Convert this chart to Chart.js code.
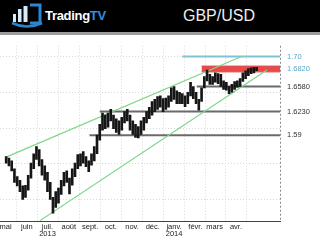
<!DOCTYPE html>
<html>
<head>
<meta charset="UTF-8">
<title>GBP/USD</title>
<script src="https://cdn.jsdelivr.net/npm/chart.js@4"></script>
<style>
    body {
        margin: 0;
        width: 320px;
        height: 240px;
        overflow: hidden;
        position: relative;
        background: #fff;
        font-family: "Liberation Sans", Arial, sans-serif;
    }
    .header {
        position: absolute;
        left: 0; top: 0;
        width: 320px; height: 32px;
        background: #000;
        border-bottom: 3px solid #9c9c9c;
    }
    .logo { position: absolute; left: 11px; top: 3px; }
    .brand {
        position: absolute; left: 45px; top: 8px;
        font-size: 13px; font-weight: bold; color: #fff;
        letter-spacing: -0.3px;
    }
    .brand span { color: #2f8fe0; }
    .pair {
        position: absolute; left: 183px; top: 7px;
        font-size: 16px; color: #eee;
    }
    .chart-box {
        position: absolute;
        left: -20px; top: 35px;
        width: 340px; height: 205px;
    }
</style>
</head>
<body>
<div class="header">
    <svg class="logo" width="32" height="26" viewBox="0 0 32 26">
        <rect x="2" y="11" width="3" height="8" fill="#d6ebfa"/>
        <rect x="7" y="6" width="3.5" height="13" fill="#d6ebfa"/>
        <rect x="12.5" y="3" width="4" height="16" fill="#d6ebfa"/>
        <path d="M19 2 H29 V20 H19" fill="none" stroke="#2c86d0" stroke-width="3"/>
        <path d="M1 20 Q16 27 31 20" fill="none" stroke="#2c86d0" stroke-width="2.5"/>
    </svg>
    <div class="brand">Trading<span>TV</span></div>
    <div class="pair">GBP/USD</div>
</div>
<div class="chart-box"><canvas id="chart"></canvas></div>

<script>
// prix (barres haut/bas), un point tous les 4 jours
const dates = [
    '2013-05-02','2013-05-06','2013-05-10','2013-05-14','2013-05-18','2013-05-22','2013-05-26','2013-05-30',
    '2013-06-03','2013-06-07','2013-06-11','2013-06-15','2013-06-19','2013-06-23','2013-06-27',
    '2013-07-01','2013-07-05','2013-07-09','2013-07-13','2013-07-17','2013-07-21','2013-07-25','2013-07-29',
    '2013-08-02','2013-08-06','2013-08-10','2013-08-14','2013-08-18','2013-08-22','2013-08-26','2013-08-30',
    '2013-09-03','2013-09-07','2013-09-11','2013-09-15','2013-09-19','2013-09-23','2013-09-27',
    '2013-10-01','2013-10-05','2013-10-09','2013-10-13','2013-10-17','2013-10-21','2013-10-25','2013-10-29',
    '2013-11-02','2013-11-06','2013-11-10','2013-11-14','2013-11-18','2013-11-22','2013-11-26','2013-11-30',
    '2013-12-04','2013-12-08','2013-12-12','2013-12-16','2013-12-20','2013-12-24','2013-12-28',
    '2014-01-01','2014-01-05','2014-01-09','2014-01-13','2014-01-17','2014-01-21','2014-01-25','2014-01-29',
    '2014-02-02','2014-02-06','2014-02-10','2014-02-14','2014-02-18','2014-02-22','2014-02-26',
    '2014-03-02','2014-03-06','2014-03-10','2014-03-14','2014-03-18','2014-03-22','2014-03-26','2014-03-30',
    '2014-04-03','2014-04-07','2014-04-11','2014-04-15','2014-04-19','2014-04-23','2014-04-27','2014-05-01'
];
const highs = [
    1.560,1.558,1.554,1.543,1.532,1.527,1.519,1.520,1.534,1.551,
    1.564,1.574,1.570,1.556,1.547,1.538,1.524,1.503,1.511,1.516,
    1.527,1.538,1.540,1.530,1.543,1.551,1.563,1.564,1.567,1.560,
    1.554,1.564,1.574,1.590,1.605,1.621,1.618,1.621,1.626,1.618,
    1.613,1.610,1.615,1.623,1.626,1.618,1.610,1.605,1.602,1.610,
    1.615,1.623,1.629,1.637,1.640,1.644,1.645,1.641,1.642,1.645,
    1.656,1.658,1.652,1.650,1.648,1.645,1.650,1.664,1.658,1.650,
    1.640,1.656,1.672,1.681,1.675,1.672,1.677,1.676,1.675,1.666,
    1.664,1.658,1.661,1.665,1.666,1.669,1.677,1.680,1.683,1.684,
    1.685,1.685
];
const lows = [
    1.551,1.547,1.540,1.524,1.519,1.511,1.500,1.503,1.513,1.530,
    1.543,1.556,1.547,1.534,1.527,1.511,1.500,1.481,1.489,1.495,
    1.507,1.519,1.524,1.508,1.520,1.532,1.543,1.547,1.551,1.546,
    1.539,1.548,1.554,1.564,1.583,1.597,1.599,1.601,1.610,1.599,
    1.594,1.591,1.597,1.607,1.610,1.597,1.591,1.587,1.586,1.591,
    1.597,1.607,1.613,1.618,1.623,1.626,1.629,1.623,1.626,1.629,
    1.637,1.640,1.634,1.634,1.634,1.630,1.634,1.645,1.641,1.634,
    1.625,1.637,1.656,1.666,1.661,1.661,1.664,1.662,1.658,1.654,
    1.653,1.648,1.650,1.654,1.657,1.658,1.665,1.669,1.673,1.676,
    1.677,1.680
];

// axe des dates
const xMin = '2013-04-23';
const xMax = '2014-06-04';
const monthTicks = ['2013-05-01','2013-06-01','2013-07-01','2013-08-01','2013-09-01','2013-10-01',
    '2013-11-01','2013-12-01','2014-01-01','2014-02-01','2014-03-01','2014-04-01'];
const monthLabels = ['mai','juin',['juil.','2013'],'août','sept.','oct.','nov.','déc.',
    ['janv.','2014'],'févr.','mars','avr.'];

// axe des prix
const yMin = 1.47;
const yMax = 1.715;
const gridLevels = [1.50, 1.55, 1.60, 1.65, 1.70];
const levelValues = [1.59, 1.623, 1.658, 1.682, 1.70];
const levelLabels = ['1.59', '1.6230', '1.6580', '1.6820', '1.70'];

// supports / résistances
const supportValues = [1.59, 1.623, 1.658];
const supportStarts = ['2013-08-31', '2013-09-15', '2014-02-03'];
const targetValue = 1.70;
const targetStart = '2014-01-13';
const zoneTop = 1.6865;
const zoneBottom = 1.6785;
const zoneStart = '2014-02-10';

// canal haussier
const upperDates = ['2013-05-01', '2014-04-09'];
const upperValues = [1.559, 1.700];
const lowerDates = ['2013-06-20', '2014-05-16'];
const lowerValues = [1.4705, 1.6812];

function dayNum(s) {
    return Date.UTC(+s.slice(0, 4), +s.slice(5, 7) - 1, +s.slice(8, 10)) / 86400000;
}

const labelColors = ['#333', '#333', '#333', '#5aa9c9', '#5aa9c9'];
const font = { family: '"Liberation Sans", Arial, sans-serif', size: 7.5, lineHeight: 1 };

const datasets = [];

// barres de prix (dessinées en dernier)
datasets.push({
    type: 'bar',
    data: dates.map((d, i) => ({ x: dayNum(d), y: [lows[i], highs[i]] })),
    backgroundColor: '#161616',
    barThickness: 2,
    order: 0
});

// zone rouge 1.6820
datasets.push({
    type: 'line',
    data: [{ x: dayNum(zoneStart), y: zoneTop }, { x: dayNum(xMax), y: zoneTop }],
    borderColor: '#d93434', borderWidth: 1, pointRadius: 0,
    backgroundColor: '#ec4848', fill: '+1', order: 3
});
datasets.push({
    type: 'line',
    data: [{ x: dayNum(zoneStart), y: zoneBottom }, { x: dayNum(xMax), y: zoneBottom }],
    borderColor: '#d93434', borderWidth: 1, pointRadius: 0, fill: false, order: 3
});

// objectif 1.70
datasets.push({
    type: 'line',
    data: [{ x: dayNum(targetStart), y: targetValue }, { x: dayNum(xMax), y: targetValue }],
    borderColor: '#7ec3d6', borderWidth: 2, pointRadius: 0, fill: false, order: 2
});

// supports gris
supportValues.forEach((v, i) => {
    datasets.push({
        type: 'line',
        data: [{ x: dayNum(supportStarts[i]), y: v }, { x: dayNum(xMax), y: v }],
        borderColor: '#6a6a6a', borderWidth: 2, pointRadius: 0, fill: false, order: 2
    });
});

// canal
datasets.push({
    type: 'line',
    data: upperDates.map((d, i) => ({ x: dayNum(d), y: upperValues[i] })),
    borderColor: '#7fd68a', borderWidth: 1.2, pointRadius: 0, fill: false, order: 1
});
datasets.push({
    type: 'line',
    data: lowerDates.map((d, i) => ({ x: dayNum(d), y: lowerValues[i] })),
    borderColor: '#7fd68a', borderWidth: 1.2, pointRadius: 0, fill: false, order: 1
});

// bord droit en pointillés
const rightEdge = {
    id: 'rightEdge',
    afterDatasetsDraw(chart) {
        const { ctx, chartArea: a } = chart;
        ctx.save();
        ctx.strokeStyle = '#888';
        ctx.lineWidth = 1;
        ctx.setLineDash([2, 2]);
        ctx.beginPath();
        ctx.moveTo(Math.round(a.right) + 0.5, a.top);
        ctx.lineTo(Math.round(a.right) + 0.5, a.bottom);
        ctx.stroke();
        ctx.restore();
    }
};

new Chart(document.getElementById('chart'), {
    type: 'bar',
    data: { datasets: datasets },
    plugins: [rightEdge],
    options: {
        responsive: true,
        maintainAspectRatio: false,
        animation: false,
        layout: { padding: { top: 5, left: 0, right: 0, bottom: 0 } },
        plugins: {
            legend: { display: false },
            tooltip: { enabled: false }
        },
        scales: {
            x: {
                type: 'linear',
                offset: false,
                min: dayNum(xMin),
                max: dayNum(xMax),
                afterBuildTicks: scale => {
                    scale.ticks = monthTicks.map(s => ({ value: dayNum(s) }));
                },
                ticks: {
                    autoSkip: false,
                    maxRotation: 0,
                    minRotation: 0,
                    padding: 2,
                    color: '#222',
                    font: font,
                    callback: (value, index) => monthLabels[index]
                },
                grid: { color: '#d9d9d9', drawTicks: false },
                border: { display: true, color: '#444', width: 1, dash: [1, 2] }
            },
            y: {
                position: 'left',
                min: yMin,
                max: yMax,
                afterBuildTicks: scale => {
                    scale.ticks = gridLevels.map(v => ({ value: v }));
                },
                afterFit: scale => { scale.width = 20; },
                ticks: { display: false },
                grid: { color: '#d9d9d9', drawTicks: false },
                border: { display: false, dash: [1, 2] }
            },
            y2: {
                position: 'right',
                min: yMin,
                max: yMax,
                afterBuildTicks: scale => {
                    scale.ticks = levelValues.map(v => ({ value: v }));
                },
                afterFit: scale => { scale.width = 40; },
                ticks: {
                    padding: 7,
                    font: font,
                    color: ctx => labelColors[ctx.index],
                    callback: (value, index) => levelLabels[index]
                },
                grid: { display: false, drawTicks: false },
                border: { display: false }
            }
        }
    }
});
</script>
</body>
</html>
